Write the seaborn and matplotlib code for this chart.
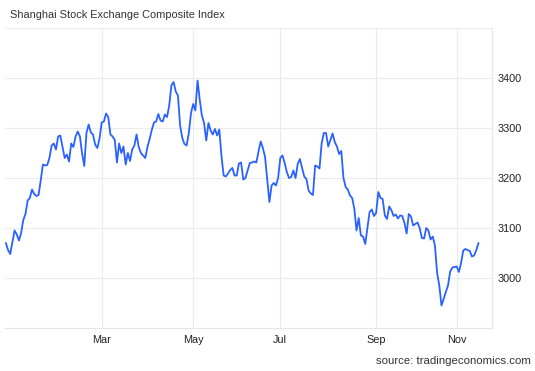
import matplotlib
matplotlib.use("Agg")
import matplotlib.pyplot as plt
import numpy as np
import pandas as pd
import seaborn as sns

# daily closes, one per trading session (21 Dec 2022 - 15 Nov 2023)
close = [
    3070, 3056, 3048, 3072, 3095, 3087, 3075, 3090, 3116, 3128,
    3155, 3160, 3177, 3168, 3164, 3166, 3195, 3227, 3225, 3226,
    3240, 3265, 3269, 3257, 3283, 3285, 3263, 3240, 3247, 3233,
    3269, 3262, 3283, 3293, 3283, 3249, 3224, 3290, 3307, 3291,
    3287, 3267, 3260, 3279, 3311, 3313, 3329, 3322, 3287, 3283,
    3276, 3231, 3269, 3250, 3263, 3227, 3250, 3234, 3257, 3265,
    3287, 3262, 3250, 3245, 3240, 3262, 3278, 3296, 3311, 3313,
    3328, 3315, 3313, 3327, 3322, 3345, 3385, 3392, 3373, 3365,
    3305, 3280, 3268, 3265, 3290, 3330, 3348, 3335, 3395, 3357,
    3325, 3310, 3275, 3310, 3295, 3287, 3298, 3285, 3297, 3243,
    3205, 3203, 3209, 3216, 3220, 3205, 3205, 3229, 3231, 3197,
    3200, 3215, 3230, 3231, 3233, 3231, 3253, 3273, 3260, 3242,
    3197, 3152, 3185, 3190, 3185, 3200, 3240, 3245, 3230, 3212,
    3200, 3202, 3215, 3200, 3228, 3238, 3220, 3203, 3198, 3175,
    3169, 3166, 3225, 3223, 3219, 3270, 3290, 3290, 3263, 3276,
    3289, 3272, 3263, 3248, 3254, 3200, 3182, 3177, 3165, 3160,
    3138, 3095, 3120, 3085, 3083, 3068, 3100, 3132, 3137, 3124,
    3130, 3172, 3160, 3158, 3125, 3118, 3143, 3136, 3124, 3127,
    3119, 3125, 3124, 3110, 3089, 3128, 3123, 3105, 3108, 3111,
    3100, 3080, 3079, 3100, 3095, 3077, 3083, 3065, 3010, 2985,
    2945, 2958, 2972, 2985, 3013, 3021, 3022, 3023, 3012, 3030,
    3055, 3058, 3056, 3054, 3043, 3045, 3056, 3070,
]

# exchange holidays falling on weekdays
holidays = [
    "2023-01-02", "2023-01-23", "2023-01-24", "2023-01-25", "2023-01-26",
    "2023-01-27", "2023-04-05", "2023-05-01", "2023-05-02", "2023-05-03",
    "2023-06-22", "2023-06-23", "2023-09-29", "2023-10-02", "2023-10-03",
    "2023-10-04", "2023-10-05", "2023-10-06",
]
tick_months = [3, 5, 7, 9, 11]
y_ticks = [3000, 3100, 3200, 3300, 3400]

dates = pd.bdate_range("2022-12-21", "2023-11-15", freq="C", holidays=holidays)
n = min(len(dates), len(close))
df = pd.DataFrame({"date": dates[:n], "close": close[:n]})
df["session"] = np.arange(n)

sns.set_theme(style="whitegrid")
plt.rcParams["font.family"] = ["Liberation Sans", "DejaVu Sans"]

fig = plt.figure(figsize=(5.35, 3.71), dpi=100)
ax = fig.add_axes([5 / 535, 43 / 371, 487 / 535, 300 / 371])

sns.lineplot(data=df, x="session", y="close", ax=ax, color="#2a62ff", linewidth=1.3)

# month ticks at the first session of each month
ticks, labels = [], []
for m in tick_months:
    sub = df[(df["date"].dt.month == m) & (df["date"].dt.year == 2023)]
    ticks.append(sub["session"].iloc[0])
    labels.append(sub["date"].iloc[0].strftime("%b"))
ax.set_xticks(ticks)
ax.set_xticklabels(labels)
ax.set_yticks(y_ticks)

ax.set_xlim(-0.4, 223.2)
ax.set_ylim(2900, 3500)
ax.yaxis.tick_right()
ax.set_xlabel("")
ax.set_ylabel("")
ax.grid(True, color="#ebebeb", linewidth=0.8)
ax.set_facecolor("white")
for side in ["left", "top"]:
    ax.spines[side].set_visible(False)
for side in ["right", "bottom"]:
    ax.spines[side].set_color("#e6e6e6")
    ax.spines[side].set_linewidth(0.8)
ax.axhline(3500, color="#ebebeb", linewidth=0.8, zorder=0)
ax.tick_params(axis="both", length=0, labelsize=7.8, colors="#222222")
ax.tick_params(axis="y", pad=4)
ax.tick_params(axis="x", pad=5)

fig.text(10 / 535, 1 - 15 / 371, "Shanghai Stock Exchange Composite Index",
         fontsize=7.9, color="#333333", va="center", ha="left")
fig.text(531 / 535, 1 - 361 / 371, "source: tradingeconomics.com",
         fontsize=8.2, color="#333333", va="center", ha="right")

fig.savefig("out.png", dpi=100)
